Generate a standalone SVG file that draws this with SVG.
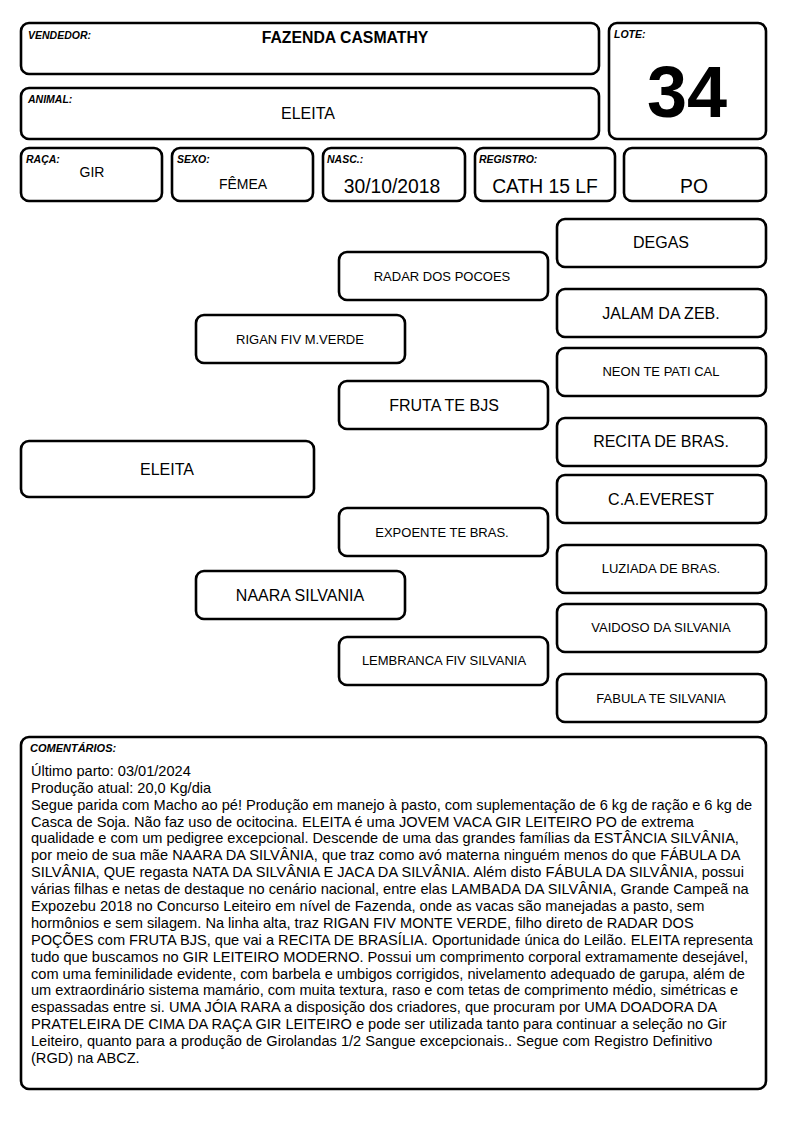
<svg xmlns="http://www.w3.org/2000/svg" width="794" height="1123" viewBox="0 0 794 1123">
<style>
rect.b{fill:#fff;stroke:#000;stroke-width:2.6}
text{font-family:"Liberation Sans",Arial,sans-serif;fill:#000}
.lbl{font-size:10.5px;font-weight:bold;font-style:italic}
.c{text-anchor:middle}
.l{font-size:16px}
.s{font-size:13px}
.v{font-size:14px}
.m{font-size:19.3px}
.cm{font-size:14.6px}
</style>
<rect width="794" height="1123" fill="#fff"/>
<g id="header">
<g id="vendedor"><rect class="b" x="21" y="23" width="578" height="51" rx="8"/><text class="lbl" x="28" y="39">VENDEDOR:</text><text class="c" x="345" y="43" style="font-size:15.8px;font-weight:bold">FAZENDA CASMATHY</text></g>
<g id="lote"><rect class="b" x="609" y="23" width="157" height="116" rx="8"/><text class="lbl" x="614" y="38">LOTE:</text><text class="c" x="687" y="117" style="font-size:72px;font-weight:bold">34</text></g>
<g id="animal"><rect class="b" x="21" y="88" width="578" height="51" rx="8"/><text class="lbl" x="28" y="103">ANIMAL:</text><text class="c l" x="308" y="119">ELEITA</text></g>
<g id="raca"><rect class="b" x="21" y="148" width="141" height="53" rx="8"/><text class="lbl" x="26" y="163">RAÇA:</text><text class="c v" x="92" y="177">GIR</text></g>
<g id="sexo"><rect class="b" x="172" y="148" width="141" height="53" rx="8"/><text class="lbl" x="177" y="163">SEXO:</text><text class="c v" x="243" y="189">FÊMEA</text></g>
<g id="nasc"><rect class="b" x="323" y="148" width="142" height="53" rx="8"/><text class="lbl" x="327" y="163">NASC.:</text><text class="c m" x="392" y="193">30/10/2018</text></g>
<g id="registro"><rect class="b" x="475" y="148" width="140" height="53" rx="8"/><text class="lbl" x="479" y="163">REGISTRO:</text><text class="c m" x="545" y="193">CATH 15 LF</text></g>
<g id="po"><rect class="b" x="624" y="148" width="142" height="53" rx="8"/><text class="c m" x="694" y="193">PO</text></g>
</g>
<g id="connectors"></g>
<g id="pedigree">
<g id="n-eleita"><rect class="b" x="21" y="441" width="293" height="56" rx="8"/><text class="c l" x="167" y="475">ELEITA</text></g>
<g id="n-rigan"><rect class="b" x="196" y="315" width="209" height="48" rx="8"/><text class="c s" x="300" y="344">RIGAN FIV M.VERDE</text></g>
<g id="n-naara"><rect class="b" x="196" y="571" width="209" height="48" rx="8"/><text class="c l" x="300" y="601">NAARA SILVANIA</text></g>
<g id="n-radar"><rect class="b" x="339" y="252" width="209" height="48" rx="8"/><text class="c s" x="442" y="281">RADAR DOS POCOES</text></g>
<g id="n-fruta"><rect class="b" x="339" y="381" width="209" height="48" rx="8"/><text class="c l" x="444" y="411">FRUTA TE BJS</text></g>
<g id="n-expoente"><rect class="b" x="339" y="508" width="209" height="48" rx="8"/><text class="c s" x="442" y="537">EXPOENTE TE BRAS.</text></g>
<g id="n-lembranca"><rect class="b" x="339" y="637" width="209" height="48" rx="8"/><text class="c s" x="444" y="665">LEMBRANCA FIV SILVANIA</text></g>
<g id="n-degas"><rect class="b" x="557" y="219" width="209" height="48" rx="8"/><text class="c l" x="661" y="248">DEGAS</text></g>
<g id="n-jalam"><rect class="b" x="557" y="289" width="209" height="48" rx="8"/><text class="c l" x="661" y="319">JALAM DA ZEB.</text></g>
<g id="n-neon"><rect class="b" x="557" y="348" width="209" height="48" rx="8"/><text class="c s" x="661" y="376">NEON TE PATI CAL</text></g>
<g id="n-recita"><rect class="b" x="557" y="418" width="209" height="48" rx="8"/><text class="c l" x="661" y="447">RECITA DE BRAS.</text></g>
<g id="n-everest"><rect class="b" x="557" y="475" width="209" height="48" rx="8"/><text class="c l" x="661" y="505">C.A.EVEREST</text></g>
<g id="n-luziada"><rect class="b" x="557" y="545" width="209" height="48" rx="8"/><text class="c s" x="661" y="573">LUZIADA DE BRAS.</text></g>
<g id="n-vaidoso"><rect class="b" x="557" y="604" width="209" height="48" rx="8"/><text class="c s" x="661" y="632">VAIDOSO DA SILVANIA</text></g>
<g id="n-fabula"><rect class="b" x="557" y="674" width="209" height="48" rx="8"/><text class="c s" x="661" y="703">FABULA TE SILVANIA</text></g>
</g>
<g id="comentarios">
<rect class="b" x="21" y="737" width="745" height="352" rx="8"/>
<text class="lbl" x="30" y="752" style="font-size:11px">COMENTÁRIOS:</text>
<text class="cm" x="31" y="776">Último parto: 03/01/2024</text>
<text class="cm" x="31" y="793">Produção atual: 20,0 Kg/dia</text>
<text class="cm" x="31" y="810">Segue parida com Macho ao pé! Produção em manejo à pasto, com suplementação de 6 kg de ração e 6 kg de</text>
<text class="cm" x="31" y="827">Casca de Soja. Não faz uso de ocitocina. ELEITA é uma JOVEM VACA GIR LEITEIRO PO de extrema</text>
<text class="cm" x="31" y="843">qualidade e com um pedigree excepcional. Descende de uma das grandes famílias da ESTÂNCIA SILVÂNIA,</text>
<text class="cm" x="31" y="860">por meio de sua mãe NAARA DA SILVÂNIA, que traz como avó materna ninguém menos do que FÁBULA DA</text>
<text class="cm" x="31" y="877">SILVÂNIA, QUE regasta NATA DA SILVÂNIA E JACA DA SILVÂNIA. Além disto FÁBULA DA SILVÂNIA, possui</text>
<text class="cm" x="31" y="894">várias filhas e netas de destaque no cenário nacional, entre elas LAMBADA DA SILVÂNIA, Grande Campeã na</text>
<text class="cm" x="31" y="911">Expozebu 2018 no Concurso Leiteiro em nível de Fazenda, onde as vacas são manejadas a pasto, sem</text>
<text class="cm" x="31" y="928">hormônios e sem silagem. Na linha alta, traz RIGAN FIV MONTE VERDE, filho direto de RADAR DOS</text>
<text class="cm" x="31" y="945">POÇÕES com FRUTA BJS, que vai a RECITA DE BRASÍLIA. Oportunidade única do Leilão. ELEITA representa</text>
<text class="cm" x="31" y="962">tudo que buscamos no GIR LEITEIRO MODERNO. Possui um comprimento corporal extramamente desejável,</text>
<text class="cm" x="31" y="979">com uma feminilidade evidente, com barbela e umbigos corrigidos, nivelamento adequado de garupa, além de</text>
<text class="cm" x="31" y="995">um extraordinário sistema mamário, com muita textura, raso e com tetas de comprimento médio, simétricas e</text>
<text class="cm" x="31" y="1012">espassadas entre si. UMA JÓIA RARA a disposição dos criadores, que procuram por UMA DOADORA DA</text>
<text class="cm" x="31" y="1029">PRATELEIRA DE CIMA DA RAÇA GIR LEITEIRO e pode ser utilizada tanto para continuar a seleção no Gir</text>
<text class="cm" x="31" y="1046">Leiteiro, quanto para a produção de Girolandas 1/2 Sangue excepcionais.. Segue com Registro Definitivo</text>
<text class="cm" x="31" y="1063">(RGD) na ABCZ.</text>
</g>
</svg>
